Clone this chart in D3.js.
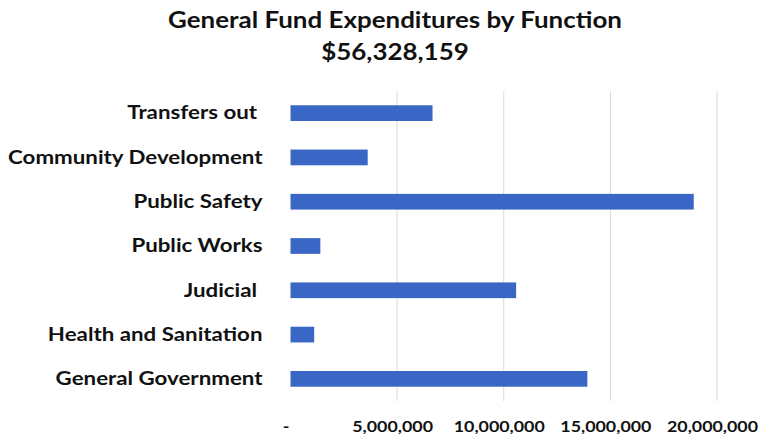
<!DOCTYPE html>
<html>
<head>
<meta charset="utf-8">
<script src="https://cdn.jsdelivr.net/npm/d3@7"></script>
<style>
  html, body { margin: 0; padding: 0; background: #ffffff; }
  svg { display: block; }
  text { font-family: Lato, "Open Sans", sans-serif; font-weight: 700; fill: #111; }
</style>
</head>
<body>
<div id="chart"></div>
<script>
// General Fund expenditures, by function (top to bottom as listed)
const categories = [
  "Transfers out ",
  "Community Development",
  "Public Safety",
  "Public Works",
  "Judicial ",
  "Health and Sanitation",
  "General Government"
];
const expenditures = [6660000, 3620000, 18910000, 1400000, 10580000, 1110000, 13920000];
const tickValues = [0, 5000000, 10000000, 15000000, 20000000];
const tickLabels = ["-", "5,000,000", "10,000,000", "15,000,000", "20,000,000"];
const titleLines = ["General Fund Expenditures by Function", "$56,328,159"];

const width = 764, height = 437;
const plot = { left: 290.5, right: 717, top: 91, bottom: 401 };

const svg = d3.select("#chart").append("svg")
  .attr("width", width).attr("height", height);

const x = d3.scaleLinear().domain([0, 20000000]).range([plot.left, plot.right]);
const y = d3.scaleBand().domain(categories).range([plot.top, plot.bottom])
  .paddingInner(0.645).paddingOuter(0.3225);

// vertical gridlines
svg.append("g").selectAll("line")
  .data(tickValues.slice(1))
  .join("line")
  .attr("x1", d => x(d)).attr("x2", d => x(d))
  .attr("y1", plot.top).attr("y2", plot.bottom)
  .attr("stroke", "#d9d9d9").attr("stroke-width", 1);

// bars
svg.append("g").selectAll("rect")
  .data(categories.map((c, i) => ({ c, v: expenditures[i] })))
  .join("rect")
  .attr("x", x(0))
  .attr("y", d => y(d.c))
  .attr("width", d => x(d.v) - x(0))
  .attr("height", y.bandwidth())
  .attr("fill", "#3a66c6");

// category axis (labels widened a little for a wide-set face)
const yAxis = svg.append("g")
  .attr("transform", `translate(${plot.left - 28},0)`)
  .call(d3.axisLeft(y).tickSize(0).tickPadding(0));
yAxis.select(".domain").remove();
yAxis.selectAll("text")
  .style("white-space", "pre")
  .attr("font-size", 19.5)
  .attr("font-family", "Lato, sans-serif")
  .attr("font-weight", 700)
  .attr("fill", "#111")
  .attr("transform", "scale(1.144,1)");

// value axis
const xAxis = svg.append("g")
  .attr("transform", `translate(-5,${plot.bottom + 20})`)
  .call(d3.axisBottom(x).tickValues(tickValues)
    .tickFormat((d, i) => tickLabels[i]).tickSize(0).tickPadding(0));
xAxis.select(".domain").remove();
xAxis.selectAll("text")
  .attr("font-size", 15)
  .attr("font-family", "Lato, sans-serif")
  .attr("font-weight", 700)
  .attr("fill", "#111")
  .attr("transform", "scale(1.19,1)");

// title
svg.append("g")
  .attr("transform", "translate(395,0) scale(1.153,1)")
  .selectAll("text")
  .data(titleLines)
  .join("text")
  .attr("x", 0)
  .attr("y", (d, i) => 28 + i * 32)
  .attr("text-anchor", "middle")
  .attr("font-size", 22.5)
  .text(d => d);
</script>
</body>
</html>
